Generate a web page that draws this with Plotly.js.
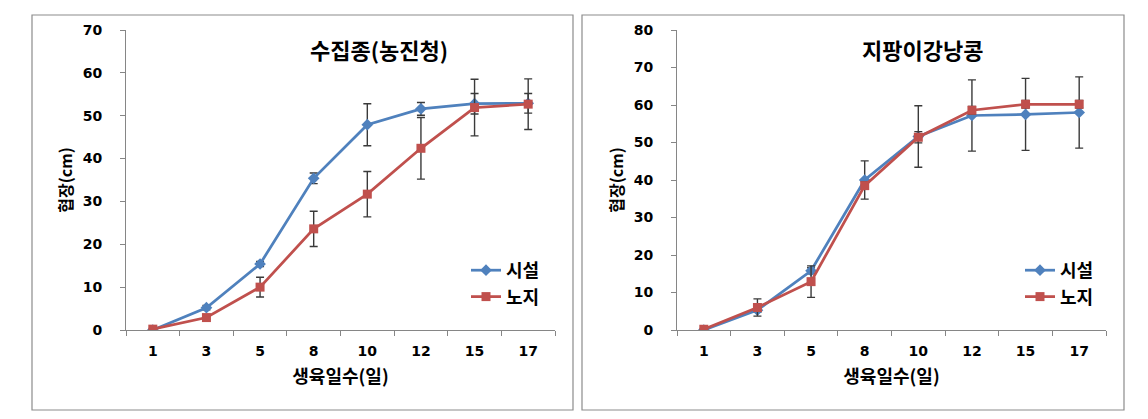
<!DOCTYPE html>
<html>
<head>
<meta charset="utf-8">
<script src="https://cdn.plot.ly/plotly-3.0.1.min.js"></script>
<style>html,body{margin:0;padding:0;background:#fff;}#chart{width:1148px;height:419px;}</style>
</head>
<body>
<div id="chart"></div>
<script>
// ---- data ----
var days = ['1', '3', '5', '8', '10', '12', '15', '17'];
var seriesNames = ['시설', '노지'];
var titles = ['수집종(농진청)', '지팡이강낭콩'];
var xTitle = '생육일수(일)';
var yTitle = '협장(cm)';

var leftSisul = [0, 5.2, 15.4, 35.4, 47.9, 51.6, 52.8, 52.9];
var leftSisulErr = [0.2, 0.5, 0.6, 1.25, 4.9, 1.5, 2.4, 2.3];
var leftNoji = [0.2, 2.9, 10.0, 23.6, 31.7, 42.4, 51.9, 52.7];
var leftNojiErr = [0.2, 0.4, 2.3, 4.1, 5.3, 7.2, 6.6, 5.9];

var rightSisul = [0, 5.3, 15.8, 40.0, 51.6, 57.2, 57.5, 58.0];
var rightSisulErr = [0.2, 0.6, 0.8, 5.1, 8.2, 9.5, 9.6, 9.5];
var rightNoji = [0.2, 6.0, 12.9, 38.5, 51.4, 58.6, 60.2, 60.2];
var rightNojiErr = [0.2, 2.3, 4.2, 1.0, 1.5, 1.0, 1.0, 1.0];

var yMax = [70, 80];

// ---- styles ----
var BLUE = '#4F81BD', RED = '#C0504D', AX = '#868686', ERR = '#3a3a3a';
var FONT = 'DejaVu Sans, "Noto Sans CJK KR", sans-serif';
var KFONT = '"Noto Sans CJK KR", "DejaVu Sans", sans-serif';

function tr(x, y, err, name, color, sym, size, xa, ya, leg) {
  return {
    type: 'scatter', mode: 'lines+markers', x: x, y: y, name: name,
    xaxis: xa, yaxis: ya, legend: leg,
    line: {color: color, width: 2.75},
    marker: {color: color, symbol: sym, size: size},
    error_y: {type: 'data', array: err, visible: true, color: ERR, thickness: 1.4, width: 4}
  };
}

var data = [
  tr(days, leftSisul, leftSisulErr, seriesNames[0], BLUE, 'diamond', 9, 'x', 'y', 'legend'),
  tr(days, leftNoji, leftNojiErr, seriesNames[1], RED, 'square', 9, 'x', 'y', 'legend'),
  tr(days, rightSisul, rightSisulErr, seriesNames[0], BLUE, 'diamond', 9, 'x2', 'y2', 'legend2'),
  tr(days, rightNoji, rightNojiErr, seriesNames[1], RED, 'square', 9, 'x2', 'y2', 'legend2')
];

function xax(dom, anchor) {
  return {
    type: 'category', domain: dom, anchor: anchor, categoryorder: 'array', categoryarray: days,
    range: [-0.5, days.length - 0.5], tickson: 'boundaries', ticks: 'outside', ticklen: 5,
    tickcolor: AX, showline: true, linecolor: AX, linewidth: 1, showgrid: false, zeroline: false,
    tickfont: {family: FONT, size: 14, color: '#000', weight: 'bold'}, ticklabelstandoff: 8,
    title: {text: xTitle, font: {family: KFONT, size: 18, color: '#000', weight: 'bold'}, standoff: 12},
    fixedrange: true
  };
}
function yax(dom, anchor, max) {
  return {
    domain: dom, anchor: anchor, range: [0, max], dtick: 10, ticks: 'outside', ticklen: 5,
    tickcolor: AX, showline: true, linecolor: AX, linewidth: 1, showgrid: false, zeroline: false,
    tickfont: {family: FONT, size: 14, color: '#000', weight: 'bold'}, ticklabelstandoff: 15,
    title: {text: yTitle, font: {family: KFONT, size: 16, color: '#000', weight: 'bold'}, standoff: 6},
    fixedrange: true
  };
}

var W = 1148, H = 419;
var yDom = [1 - 330 / H, 1 - 30 / H];
var layout = {
  width: W, height: H, margin: {l: 0, r: 0, t: 0, b: 0},
  paper_bgcolor: '#fff', plot_bgcolor: 'rgba(0,0,0,0)',
  xaxis: xax([126 / W, 555 / W], 'y'),
  yaxis: yax(yDom, 'x', yMax[0]),
  xaxis2: xax([677 / W, 1106 / W], 'y2'),
  yaxis2: yax(yDom, 'x2', yMax[1]),
  legend: {x: 466 / W, y: 1 - 252 / H, xanchor: 'left', yanchor: 'top', bgcolor: 'rgba(0,0,0,0)',
    font: {family: KFONT, size: 18, color: '#000', weight: 'bold'}, itemwidth: 30, tracegroupgap: 0},
  legend2: {x: 1020 / W, y: 1 - 252 / H, xanchor: 'left', yanchor: 'top', bgcolor: 'rgba(0,0,0,0)',
    font: {family: KFONT, size: 18, color: '#000', weight: 'bold'}, itemwidth: 30, tracegroupgap: 0},
  showlegend: true,
  shapes: [
    {type: 'rect', xref: 'paper', yref: 'paper', x0: 32 / W, x1: 573 / W, y0: 1 - 410 / H, y1: 1 - 15 / H,
      line: {color: '#8c8c8c', width: 1.2}},
    {type: 'rect', xref: 'paper', yref: 'paper', x0: 582 / W, x1: 1124 / W, y0: 1 - 410 / H, y1: 1 - 15 / H,
      line: {color: '#8c8c8c', width: 1.2}}
  ],
  annotations: [
    {xref: 'paper', yref: 'paper', x: 379 / W, y: 1 - 49 / H, xanchor: 'center', yanchor: 'middle', showarrow: false,
      text: titles[0], font: {family: KFONT, size: 22, color: '#000', weight: 'bold'}},
    {xref: 'paper', yref: 'paper', x: 922 / W, y: 1 - 49 / H, xanchor: 'center', yanchor: 'middle', showarrow: false,
      text: titles[1], font: {family: KFONT, size: 22, color: '#000', weight: 'bold'}}
  ]
};

Plotly.newPlot('chart', data, layout, {displayModeBar: false, staticPlot: true});
</script>
</body>
</html>
